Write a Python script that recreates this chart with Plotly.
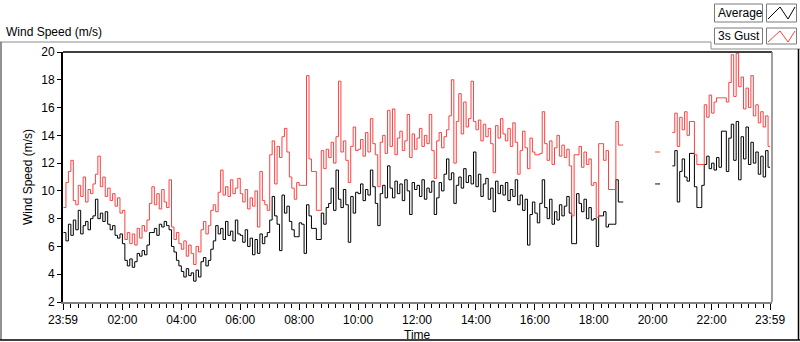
import pandas as pd
import plotly.graph_objects as go

# ---- data (5-minute samples, 00:00 .. 23:55, plus closing value at 23:59) ----
avg_h = [
    [7.0, 6.4, 7.6, 6.8, 7.9, 7.2, 8.6, 6.9, 7.5, 7.8, 7.2, 8.0],
    [8.2, 9.4, 8.0, 8.4, 7.8, 8.5, 7.6, 7.2, 7.5, 6.8, 6.6, 6.9],
    [6.2, 5.0, 4.6, 5.1, 4.5, 4.9, 5.5, 5.3, 5.7, 5.4, 6.1, 7.0],
    [7.0, 7.3, 6.8, 7.6, 7.4, 7.8, 7.5, 7.2, 6.0, 5.6, 5.0, 4.6],
    [4.2, 3.8, 4.4, 3.9, 4.1, 3.5, 4.3, 3.8, 4.9, 5.2, 4.6, 5.0],
    [5.8, 6.4, 7.5, 6.9, 7.3, 6.5, 7.8, 6.8, 7.1, 6.4, 7.9, 6.9],
    [6.8, 6.3, 7.2, 6.0, 6.6, 5.4, 6.5, 5.5, 6.9, 6.2, 6.7, 7.0],
    [7.9, 9.6, 8.2, 7.6, 5.7, 9.7, 8.4, 8.9, 7.8, 7.2, 6.7, 6.7],
    [7.7, 7.6, 5.5, 9.0, 8.2, 7.3, 7.3, 6.5, 6.5, 8.4, 7.6, 8.8],
    [9.1, 10.2, 8.6, 11.5, 9.4, 8.8, 10.1, 9.0, 6.3, 9.6, 8.4, 9.9],
    [9.8, 10.5, 9.3, 10.1, 9.7, 11.5, 10.3, 9.1, 7.5, 9.8, 10.4, 9.5],
    [11.8, 10.2, 9.5, 10.7, 9.8, 10.5, 9.3, 10.8, 10.0, 8.3, 10.6, 10.1],
    [10.4, 9.6, 10.8, 9.4, 10.2, 9.9, 10.7, 8.3, 9.5, 10.6, 10.0, 11.2],
    [12.3, 10.8, 11.3, 9.1, 10.4, 11.0, 10.2, 11.6, 10.6, 11.1, 10.5, 12.8],
    [10.3, 11.2, 9.6, 10.5, 10.9, 9.4, 10.2, 8.5, 10.7, 9.8, 10.4, 9.7],
    [10.6, 9.3, 10.1, 9.6, 10.8, 9.0, 9.7, 8.6, 9.4, 6.1, 8.3, 9.2],
    [8.4, 7.7, 9.1, 10.8, 8.8, 8.0, 9.4, 7.6, 8.5, 7.9, 9.0, 8.2],
    [8.9, 9.6, 8.4, 6.2, 6.2, 9.8, 9.1, 8.5, 9.4, 8.0, 8.8, 7.9],
    [8.0, 6.0, 8.2, 8.2, 8.5, 7.4, 7.6, 7.6, 7.6, 10.8, 9.2, 9.2],
    [9.2, None, None, None, None, None, None, None, None, None, None, None],
    [None, 10.5, 10.5, 10.5, None, None, None, None, 11.8, 12.9, 9.2, 11.4],
    [12.3, 11.0, 10.7, 12.7, 12.7, 10.3, 8.8, 8.8, 10.4, 11.9, 12.5, 11.6],
    [12.0, 11.5, 12.4, 11.7, 14.3, 14.3, 11.4, 13.8, 14.8, 12.2, 15.0, 10.8],
    [13.9, 12.3, 14.6, 11.9, 13.5, 12.0, 12.8, 11.2, 12.5, 11.0, 12.9, 11.7],
]
avg_end = 11.7

gust_h = [
    [8.8, 10.6, 11.4, 12.2, 9.3, 9.0, 10.4, 9.6, 11.0, 9.2, 10.1, 9.8],
    [10.5, 11.2, 12.5, 10.3, 11.0, 9.6, 10.2, 9.3, 9.8, 8.9, 9.5, 8.4],
    [8.6, 6.5, 7.0, 6.2, 6.9, 6.1, 7.3, 6.6, 7.5, 7.1, 7.9, 9.1],
    [10.3, 9.0, 9.8, 8.7, 10.1, 9.2, 8.8, 10.8, 7.4, 6.5, 7.0, 6.2],
    [5.8, 6.4, 5.3, 6.1, 5.5, 4.7, 6.0, 5.6, 7.2, 7.8, 6.9, 7.5],
    [8.6, 9.0, 8.5, 9.9, 11.5, 9.7, 10.3, 9.6, 10.8, 9.8, 10.2, 10.9],
    [9.8, 9.2, 10.1, 8.7, 9.5, 8.9, 10.0, 7.4, 11.4, 9.3, 9.0, 8.6],
    [12.6, 13.6, 10.5, 13.2, 12.4, 13.9, 14.5, 12.8, 11.0, 10.2, 9.4, 10.6],
    [10.4, 10.4, 10.4, 18.3, 12.3, 11.4, 11.4, 8.6, 8.6, 12.9, 11.6, 13.0],
    [12.4, 13.5, 12.0, 13.9, 17.9, 12.8, 13.6, 12.2, 10.6, 13.2, 14.6, 12.9],
    [13.0, 13.7, 12.5, 14.2, 12.8, 15.2, 13.4, 12.6, 10.3, 13.5, 14.0, 12.7],
    [15.8, 13.2, 15.9, 12.6, 13.8, 14.3, 12.9, 13.6, 15.5, 12.4, 14.1, 13.0],
    [13.8, 14.5, 13.2, 14.0, 13.4, 15.5, 12.9, 10.9, 13.6, 14.2, 13.1, 13.9],
    [14.4, 15.4, 18.0, 12.0, 15.0, 17.0, 14.1, 16.4, 14.6, 15.2, 17.9, 15.0],
    [14.4, 15.1, 13.6, 14.8, 13.9, 14.5, 13.4, 11.3, 14.7, 13.8, 15.2, 14.1],
    [13.6, 14.5, 13.2, 14.9, 13.5, 11.2, 12.9, 14.3, 13.1, 11.6, 13.8, 12.8],
    [12.6, 12.6, 12.7, 15.7, 13.4, 12.2, 13.6, 11.9, 13.1, 14.0, 12.5, 13.3],
    [12.4, 13.0, 11.8, 8.2, 12.6, 12.6, 13.2, 11.7, 12.8, 11.9, 12.3, 10.4],
    [10.6, 8.1, 13.4, 13.4, 12.2, 12.9, 10.1, 10.1, 10.1, 15.0, 13.3, 13.3],
    [13.3, None, None, None, None, None, None, None, None, None, None, None],
    [None, 12.8, 12.8, 12.8, None, None, None, None, 14.2, 15.6, 13.2, 15.3],
    [14.4, 15.7, 14.0, 15.0, 15.0, 12.6, 11.9, 11.9, 11.9, 16.2, 15.3, 16.9],
    [15.6, 16.4, 16.7, 16.7, 16.7, 16.7, 16.4, 17.8, 19.8, 16.8, 19.9, 17.5],
    [18.2, 15.9, 17.4, 16.0, 18.3, 15.4, 16.2, 14.9, 15.7, 14.6, 15.4, 13.2],
]
gust_end = 13.2

tick_labels = ["23:59", "02:00", "04:00", "06:00", "08:00", "10:00", "12:00",
               "14:00", "16:00", "18:00", "20:00", "22:00", "23:59"]
tick_times = ["2024-01-01 23:59", "2024-01-02 02:00", "2024-01-02 04:00", "2024-01-02 06:00",
              "2024-01-02 08:00", "2024-01-02 10:00", "2024-01-02 12:00", "2024-01-02 14:00",
              "2024-01-02 16:00", "2024-01-02 18:00", "2024-01-02 20:00", "2024-01-02 22:00",
              "2024-01-02 23:59"]

# ---- build series ----
times = list(pd.date_range("2024-01-02 00:00", periods=288, freq="5min")) + [pd.Timestamp("2024-01-02 23:59")]
avg = [v for row in avg_h for v in row] + [avg_end]
gust = [v for row in gust_h for v in row] + [gust_end]

RED = "#ff4040"
FONT = "Liberation Sans"

fig = go.Figure()
fig.add_trace(go.Scatter(x=times, y=avg, mode="lines", name="Average",
                         line=dict(color="black", width=1, shape="hv"), showlegend=False))
fig.add_trace(go.Scatter(x=times, y=gust, mode="lines", name="3s Gust",
                         line=dict(color=RED, width=1, shape="hv"), showlegend=False))

fig.update_layout(
    width=800, height=342,
    margin=dict(l=63, r=28, t=52, b=40, autoexpand=False),
    paper_bgcolor="white", plot_bgcolor="white",
    font=dict(family=FONT, size=12, color="black"),
    xaxis=dict(
        type="date", automargin=False,
        range=["2024-01-01 23:59", "2024-01-03 00:03"],
        tickvals=tick_times, ticktext=tick_labels,
        ticks="outside", ticklen=6, tickwidth=1, tickcolor="black",
        ticklabelstandoff=0,
        minor=dict(dtick=15 * 60 * 1000, tick0="2024-01-02 00:00", ticks="outside",
                   ticklen=4, tickcolor="black", tickwidth=1),
        showline=True, linecolor="#808080", linewidth=1.5,
        showgrid=False, zeroline=False,
        tickfont=dict(size=12),
    ),
    yaxis=dict(
        range=[2, 20], dtick=2, tick0=2, automargin=False,
        ticks="outside", ticklen=4, tickwidth=1, tickcolor="black",
        showline=True, linecolor="black", linewidth=2,
        showgrid=False, zeroline=False,
        title=dict(text="Wind Speed (m/s)", standoff=6, font=dict(size=12)),
        tickfont=dict(size=12),
    ),
)

shapes = [
    dict(type="line", xref="paper", yref="paper", x0=0, x1=1, y0=1, y1=1,
         line=dict(color="black", width=1.5)),
    dict(type="line", xref="paper", yref="paper", x0=1, x1=1, y0=0, y1=1,
         line=dict(color="#808080", width=1.5)),
]

pl, pr, pt, pb = 63.0, 772.0, 52.0, 302.0


def px(x):
    return (x - pl) / (pr - pl)


def py(y):
    return (pb - y) / (pb - pt)


def seg(x0, y0, x1, y1, color, width=1):
    shapes.append(dict(type="line", xref="paper", yref="paper",
                       x0=px(x0), y0=py(y0), x1=px(x1), y1=py(y1),
                       line=dict(color=color, width=width)))


# outer panel frame
seg(0, 42, 711, 42, "#8c8c8c")
seg(711, 42, 711, 49, "#8c8c8c")
seg(711, 49, 800, 49, "#8c8c8c")
seg(1, 42, 1, 340, "#6e6e6e", 1.5)
seg(0, 340, 800, 340, "black", 1.5)
seg(798.5, 49, 798.5, 340, "black", 1.5)

# legend boxes
for (y0, y1) in [(4, 22), (28, 44)]:
    shapes.append(dict(type="rect", xref="paper", yref="paper",
                       x0=px(714.5), x1=px(762.5), y0=py(y1), y1=py(y0),
                       line=dict(color="#7a7a7a", width=1), fillcolor="white"))
    shapes.append(dict(type="rect", xref="paper", yref="paper",
                       x0=px(766.5), x1=px(796.5), y0=py(y1), y1=py(y0),
                       line=dict(color="#7a7a7a", width=1), fillcolor="white"))


def zigzag(ytop, ybot, color):
    pts = [(768, ybot), (780, ytop), (788, ybot), (795, ytop)]
    path = "M " + " L ".join(f"{px(x)},{py(y)}" for x, y in pts)
    shapes.append(dict(type="path", xref="paper", yref="paper", path=path,
                       line=dict(color=color, width=1)))


zigzag(7, 19, "black")
zigzag(31, 42, RED)

fig.update_layout(shapes=shapes)

annotations = [
    dict(text="Wind Speed (m/s)", xref="paper", yref="paper", x=px(4), y=py(32),
         xanchor="left", yanchor="middle", showarrow=False, font=dict(size=12)),
    dict(text="Time", xref="paper", yref="paper", x=px(417), y=py(335),
         xanchor="center", yanchor="middle", showarrow=False, font=dict(size=12)),
    dict(text="Average", xref="paper", yref="paper", x=px(716), y=py(13),
         xanchor="left", yanchor="middle", showarrow=False, font=dict(size=12)),
    dict(text="3s Gust", xref="paper", yref="paper", x=px(716), y=py(36),
         xanchor="left", yanchor="middle", showarrow=False, font=dict(size=12)),
]
fig.update_layout(annotations=annotations)

fig.write_html("out.html", config={"displayModeBar": False},
               post_script="document.body.style.margin='0';document.body.style.padding='0';")
